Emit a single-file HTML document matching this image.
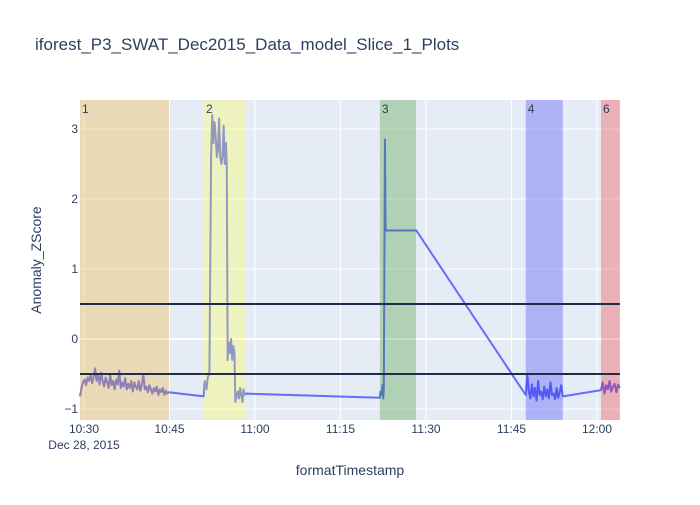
<!DOCTYPE html>
<html><head><meta charset="utf-8"><style>
body{margin:0;background:#fff}
svg{font-family:"Liberation Sans",Arial,sans-serif}
</style></head><body>
<svg id="chart" width="700" height="500">
<rect width="700" height="500" fill="#fff"/>
<text x="35" y="50" font-size="17" fill="#2a3f5f">iforest_P3_SWAT_Dec2015_Data_model_Slice_1_Plots</text>
<rect x="80" y="100" width="540" height="320" fill="#e5ecf6"/>
<g id="grid"></g>
<g id="line"></g>
<g id="shapes"></g>
<g id="hlines"></g>
<g id="ticks" font-size="12" fill="#2a3f5f"></g>
<text x="350" y="475" font-size="14" fill="#2a3f5f" text-anchor="middle">formatTimestamp</text>
<text x="41" y="260" font-size="14" fill="#2a3f5f" text-anchor="middle" transform="rotate(-90 41 260)">Anomaly_ZScore</text>
</svg>
<script>
// minutes since 10:30
const xTickMinutes=[0,15,30,45,60,75,90];
const xTickLabels=["10:30","10:45","11:00","11:15","11:30","11:45","12:00"];
const yTicks=[-1,0,1,2,3];
const thresholds=[0.5,-0.5];
const regionLabels=["1","2","3","4","6"];
const regionStart=[-0.7,21.05,51.9,77.5,90.7];
const regionEnd=[14.9,28.4,58.25,84.0,94.0];
const regionColors=["rgb(246,173,33)","rgb(255,255,59)","rgb(56,146,33)","rgb(42,43,246)","rgb(242,36,39)"];
const noise1=[-0.82,-0.7,-0.62,-0.58,-0.66,-0.55,-0.6,-0.5,-0.63,-0.55,-0.42,-0.6,-0.52,-0.65,-0.48,-0.6,-0.68,-0.55,-0.62,-0.7,-0.5,-0.66,-0.6,-0.72,-0.58,-0.65,-0.45,-0.7,-0.62,-0.68,-0.56,-0.72,-0.64,-0.7,-0.6,-0.75,-0.62,-0.68,-0.72,-0.6,-0.74,-0.66,-0.5,-0.72,-0.68,-0.76,-0.66,-0.72,-0.78,-0.7,-0.75,-0.68,-0.8,-0.72,-0.76,-0.7,-0.8,-0.74,-0.78,-0.76];
const spikeT=[21.0,21.2,21.5,21.7,22.0,22.3,22.5,22.7,22.9,23.1,23.3,23.5,23.7,23.9,24.1,24.3,24.5,24.7,24.9,25.05,25.2,25.4,25.6,25.8,26.0,26.2,26.4,26.55,26.8,27.0,27.2,27.4,27.6,27.8,28.0,28.2,28.4];
const spikeV=[-0.82,-0.6,-0.72,-0.55,-0.5,2.6,3.2,2.8,3.1,2.9,2.6,2.7,3.15,2.6,2.5,2.6,3.05,2.5,2.8,2.5,-0.3,-0.05,-0.2,0.0,-0.3,-0.1,-0.2,-0.9,-0.8,-0.75,-0.85,-0.7,-0.8,-0.9,-0.72,-0.8,-0.78];
const mid3T=[51.9,52.0,52.2,52.4,52.5,52.6,52.8,52.9,53.0,58.3];
const mid3V=[-0.84,-0.75,-0.8,-0.65,-0.85,-0.7,2.85,1.6,1.55,1.55];
const noise4=[-0.8,-0.5,-0.75,-0.85,-0.65,-0.82,-0.7,-0.88,-0.6,-0.8,-0.75,-0.86,-0.68,-0.82,-0.72,-0.85,-0.62,-0.8,-0.78,-0.86,-0.7,-0.84,-0.76,-0.66,-0.82];
const noise6=[-0.73,-0.62,-0.78,-0.66,-0.72,-0.6,-0.75,-0.68,-0.64,-0.76,-0.65,-0.7];

const X=m=>84+m*5.7, Y=v=>339-70*v;
const ns="http://www.w3.org/2000/svg";
function mk(tag,attrs,parent){const e=document.createElementNS(ns,tag);for(const k in attrs)e.setAttribute(k,attrs[k]);parent.appendChild(e);return e;}
const grid=document.getElementById('grid'),ticks=document.getElementById('ticks');
xTickMinutes.forEach((m,i)=>{
 const l=mk('line',{x1:X(m),x2:X(m),y1:100,y2:420,stroke:'#fff','stroke-width':1},grid);
 
 
 const t=mk('text',{x:X(m),y:433,'text-anchor':'middle'},ticks);t.textContent=xTickLabels[i];
 
 
});
const d=mk('text',{x:X(0),y:449,'text-anchor':'middle'},ticks);d.textContent="Dec 28, 2015";


yTicks.forEach(v=>{
 const l=mk('line',{x1:80,x2:620,y1:Y(v),y2:Y(v),stroke:'#fff','stroke-width':v===0?2:1},grid);
 
 
 const t=mk('text',{x:78,y:Y(v)+4,'text-anchor':'end'},ticks);t.textContent=v<0?'\u2212'+(-v):String(v);
 
 
});
let T=[],V=[];
noise1.forEach((v,i)=>{T.push(-0.7+i*(15.6/(noise1.length-1)));V.push(v);});
spikeT.forEach((t,i)=>{T.push(t);V.push(spikeV[i]);});
mid3T.forEach((t,i)=>{T.push(t);V.push(mid3V[i]);});
noise4.forEach((v,i)=>{T.push(77.5+i*(6.5/(noise4.length-1)));V.push(v);});
noise6.forEach((v,i)=>{T.push(90.7+i*(3.3/(noise6.length-1)));V.push(v);});
const p=mk('polyline',{points:T.map((t,i)=>X(t)+','+Y(V[i])).join(' '),fill:'none',stroke:'#636efa','stroke-width':2,'stroke-linejoin':'round'},document.getElementById('line'));


const sh=document.getElementById('shapes');
regionStart.forEach((s,i)=>{
 const x1=Math.max(80,X(s)),x2=Math.min(620,X(regionEnd[i]));
 const r=mk('rect',{x:x1,y:100,width:x2-x1,height:320,fill:regionColors[i],'fill-opacity':0.3},sh);
 
 
 const t=mk('text',{x:x1+2,y:113,'font-size':12,fill:'#2a3f5f'},sh);t.textContent=regionLabels[i];
 
 
});
thresholds.forEach(v=>{
 const l=mk('line',{x1:80,x2:620,y1:Y(v),y2:Y(v),stroke:'#1f2d4a','stroke-width':2},document.getElementById('hlines'));
 
 
});
</script>
</body></html>
